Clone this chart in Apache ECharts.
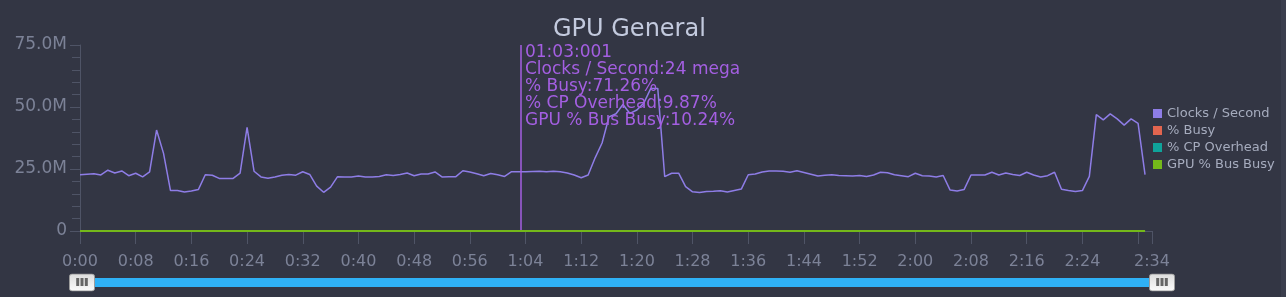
<!DOCTYPE html>
<html><head><meta charset="utf-8">
<script src="https://cdn.jsdelivr.net/npm/echarts@6/dist/echarts.min.js"></script>
<style>
html,body{margin:0;padding:0;background:#333644;overflow:hidden}
#c{position:absolute;left:0;top:0;width:1286px;height:297px}
#edge{position:absolute;right:0;top:0;width:5px;height:297px;background:#3b3e4d}
</style>
</head><body><div id="c"></div><div id="edge"></div>
<script>
// ---- data ----
const seriesNames = ['Clocks / Second', '% Busy', '% CP Overhead', 'GPU % Bus Busy'];
const seconds = [0,1,2,3,4,5,6,7,8,9,10,11,12,13,14,15,16,17,18,19,20,21,22,23,24,25,26,27,28,29,30,31,32,33,34,35,36,37,38,39,40,41,42,43,44,45,46,47,48,49,50,51,52,53,54,55,56,57,58,59,60,61,62,63,64,65,66,67,68,69,70,71,72,73,74,75,76,77,78,79,80,81,82,83,84,85,86,87,88,89,90,91,92,93,94,95,96,97,98,99,100,101,102,103,104,105,106,107,108,109,110,111,112,113,114,115,116,117,118,119,120,121,122,123,124,125,126,127,128,129,130,131,132,133,134,135,136,137,138,139,140,141,142,143,144,145,146,147,148,149,150,151,152,153];
// clocks per second, in millions
const clocksMega = [22.7,22.9,23.1,22.6,24.5,23.4,24.2,22.3,23.3,21.8,23.8,40.7,31.3,16.3,16.3,15.7,16.1,16.7,22.7,22.5,21.2,21.2,21.2,23.3,41.8,24.1,21.8,21.3,21.8,22.5,22.8,22.5,23.9,22.8,18.1,15.6,17.7,21.9,21.8,21.8,22.2,21.8,21.8,22.0,22.7,22.4,22.8,23.4,22.3,23.0,23.0,23.8,21.8,21.9,21.9,24.3,23.8,23.1,22.3,23.2,22.7,22.0,23.9,23.9,23.9,24.0,24.1,23.9,24.1,23.9,23.4,22.6,21.5,22.6,29.5,35.5,46.0,47.3,51.0,47.4,48.8,51.6,57.5,57.5,21.9,23.3,23.3,17.9,15.8,15.5,15.9,16.0,16.2,15.7,16.3,16.9,22.7,23.0,23.8,24.2,24.2,24.1,23.7,24.3,23.6,22.9,22.2,22.5,22.7,22.4,22.3,22.2,22.4,22.0,22.6,23.7,23.5,22.7,22.3,21.9,23.3,22.3,22.2,21.8,22.4,16.5,16.1,16.7,22.6,22.6,22.6,23.7,22.6,23.4,22.8,22.4,23.7,22.6,21.8,22.3,23.7,16.8,16.3,15.9,16.3,22.0,46.9,44.8,47.2,45.2,42.7,45.2,43.4,22.7];
// percentage series sit on the zero line of the clocks axis in the picture
const busyPct = [0,0,0,0,0,0,0,0,0,0,0,0,0,0,0,0,0,0,0,0,0,0,0,0,0,0,0,0,0,0,0,0,0,0,0,0,0,0,0,0,0,0,0,0,0,0,0,0,0,0,0,0,0,0,0,0,0,0,0,0,0,0,0,0,0,0,0,0,0,0,0,0,0,0,0,0,0,0,0,0,0,0,0,0,0,0,0,0,0,0,0,0,0,0,0,0,0,0,0,0,0,0,0,0,0,0,0,0,0,0,0,0,0,0,0,0,0,0,0,0,0,0,0,0,0,0,0,0,0,0,0,0,0,0,0,0,0,0,0,0,0,0,0,0,0,0,0,0,0,0,0,0,0,0];
const cpOverheadPct = [0,0,0,0,0,0,0,0,0,0,0,0,0,0,0,0,0,0,0,0,0,0,0,0,0,0,0,0,0,0,0,0,0,0,0,0,0,0,0,0,0,0,0,0,0,0,0,0,0,0,0,0,0,0,0,0,0,0,0,0,0,0,0,0,0,0,0,0,0,0,0,0,0,0,0,0,0,0,0,0,0,0,0,0,0,0,0,0,0,0,0,0,0,0,0,0,0,0,0,0,0,0,0,0,0,0,0,0,0,0,0,0,0,0,0,0,0,0,0,0,0,0,0,0,0,0,0,0,0,0,0,0,0,0,0,0,0,0,0,0,0,0,0,0,0,0,0,0,0,0,0,0,0,0];
const busBusyPct = [0,0,0,0,0,0,0,0,0,0,0,0,0,0,0,0,0,0,0,0,0,0,0,0,0,0,0,0,0,0,0,0,0,0,0,0,0,0,0,0,0,0,0,0,0,0,0,0,0,0,0,0,0,0,0,0,0,0,0,0,0,0,0,0,0,0,0,0,0,0,0,0,0,0,0,0,0,0,0,0,0,0,0,0,0,0,0,0,0,0,0,0,0,0,0,0,0,0,0,0,0,0,0,0,0,0,0,0,0,0,0,0,0,0,0,0,0,0,0,0,0,0,0,0,0,0,0,0,0,0,0,0,0,0,0,0,0,0,0,0,0,0,0,0,0,0,0,0,0,0,0,0,0,0];
// cursor readout
const cursorSeconds = 63.35;
const cursorTimeLabel = '01:03:001';
const cursorValues = ['24 mega', '71.26%', '9.87%', '10.24%'];
// axes
const xMax = 154, xStep = 8;
const yMax = 75, yStep = 25;
const MEGA = 1e6;

// ---- chart ----
const FONT = 'DejaVu Sans';
const colors = ['#8e7de6', '#e2654f', '#0fa39b', '#74b81a'];
const cursorColor = '#a45fe2';
function pairs(arr, scale) { return seconds.map((s, i) => [s, arr[i] * scale]); }
function fmtTime(v) { const m = Math.floor(v / 60), s = Math.round(v - m * 60); return m + ':' + (s < 10 ? '0' : '') + s; }

const handleSvg = "<svg xmlns='http://www.w3.org/2000/svg' width='26' height='18' viewBox='0 0 26 18'>" +
  "<defs><linearGradient id='g' x1='0' y1='0' x2='0' y2='1'><stop offset='0' stop-color='#fbfbfb'/><stop offset='1' stop-color='#dcdcdc'/></linearGradient></defs>" +
  "<rect x='0.5' y='0.5' width='25' height='17' rx='2.5' fill='url(#g)' stroke='#9c9c9c'/>" +
  "<rect x='7.2' y='5.5' width='3' height='8' fill='#666'/>" +
  "<rect x='11.5' y='5.5' width='3' height='8' fill='#666'/>" +
  "<rect x='15.8' y='5.5' width='3' height='8' fill='#666'/></svg>";
const handleIcon = 'image://data:image/svg+xml;charset=utf-8,' + encodeURIComponent(handleSvg);

const chart = echarts.init(document.getElementById('c'), null, { renderer: 'canvas' });
const lineSeries = [clocksMega, busyPct, cpOverheadPct, busBusyPct].map((arr, i) => ({
  name: seriesNames[i],
  type: 'line',
  data: pairs(arr, i === 0 ? MEGA : 1),
  showSymbol: false,
  symbol: 'none',
  lineStyle: { width: i === 0 ? 1.5 : 2, color: colors[i] },
  itemStyle: { color: colors[i] },
  emphasis: { disabled: true },
  z: 2 + i
}));
lineSeries[0].markLine = {
  silent: true, symbol: 'none', animation: false,
  label: { show: false },
  lineStyle: { color: cursorColor, width: 1.5, type: 'solid' },
  data: [{ xAxis: cursorSeconds }]
};

chart.setOption({
  backgroundColor: '#333644',
  animation: false,
  textStyle: { fontFamily: FONT },
  title: {
    text: 'GPU General', left: 548, top: 13,
    textStyle: { fontFamily: FONT, fontSize: 24, fontWeight: 'normal', color: '#c3cade' }
  },
  legend: {
    orient: 'vertical', left: 1148, top: 102,
    itemWidth: 9, itemHeight: 9, itemGap: 4, icon: 'rect',
    textStyle: { fontFamily: FONT, fontSize: 13, color: '#a6acbe' },
    data: seriesNames
  },
  grid: { left: 80, right: 134, top: 45, bottom: 66, containLabel: false },
  xAxis: {
    type: 'value', min: 0, max: xMax, interval: xStep,
    axisLine: { show: true, lineStyle: { color: '#4f5466', width: 1 } },
    axisTick: { show: true, length: 13, lineStyle: { color: '#4f5466' } },
    splitLine: { show: false },
    axisLabel: {
      fontFamily: FONT, fontSize: 16, color: '#7c8297', margin: 23,
      formatter: v => (v < xMax && v > xMax - xStep) ? '' : fmtTime(v)
    }
  },
  yAxis: {
    type: 'value', min: 0, max: yMax * MEGA, interval: yStep * MEGA,
    axisLine: { show: true, lineStyle: { color: '#4f5466', width: 1 } },
    axisTick: { show: true, length: 10, lineStyle: { color: '#4f5466' } },
    minorTick: { show: true, splitNumber: 5, length: 8, lineStyle: { color: '#4f5466' } },
    splitLine: { show: false },
    axisLabel: {
      fontFamily: FONT, fontSize: 17, color: '#7c8297', margin: 13,
      formatter: v => v === 0 ? '0' : (v / MEGA).toFixed(1) + 'M'
    }
  },
  dataZoom: [{
    type: 'slider', xAxisIndex: 0, start: 0, end: 100,
    left: 80, right: 124, top: 278, height: 9,
    backgroundColor: 'rgba(0,0,0,0)', borderColor: 'rgba(0,0,0,0)',
    fillerColor: '#2fb1f6',
    showDataShadow: false, showDetail: false, brushSelect: false,
    moveHandleSize: 0, moveHandleStyle: { opacity: 0 },
    handleIcon: handleIcon, handleSize: 26,
    handleStyle: { opacity: 1 },
    emphasis: { handleStyle: { opacity: 1 }, moveHandleStyle: { opacity: 0 } },
    dataBackground: { lineStyle: { opacity: 0 }, areaStyle: { opacity: 0 } },
    selectedDataBackground: { lineStyle: { opacity: 0 }, areaStyle: { opacity: 0 } }
  }],
  series: lineSeries
});

// cursor readout text, anchored to the cursor line via the axis scales
const cx = chart.convertToPixel({ xAxisIndex: 0 }, cursorSeconds);
const cy = chart.convertToPixel({ yAxisIndex: 0 }, yMax * MEGA);
const readout = [cursorTimeLabel].concat(seriesNames.map((n, i) => n + ':' + cursorValues[i])).join('\n');
chart.setOption({
  graphic: [{
    type: 'text', x: cx + 4, y: cy - 0.5, silent: true, z: 10,
    style: { text: readout, font: '17px "DejaVu Sans"', lineHeight: 17, fill: cursorColor }
  }]
});
</script>
</body></html>
